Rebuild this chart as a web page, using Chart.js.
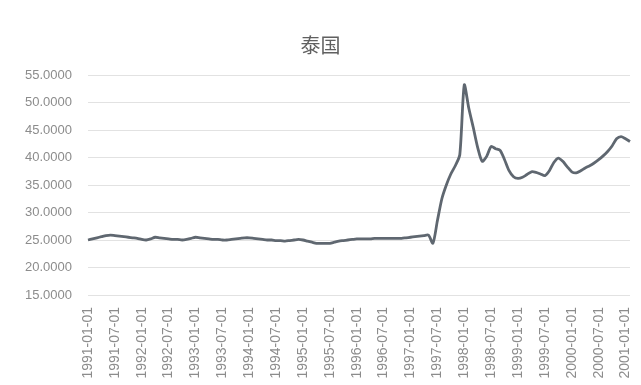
<!DOCTYPE html>
<html>
<head>
<meta charset="utf-8">
<script src="https://cdn.jsdelivr.net/npm/chart.js@4/dist/chart.umd.min.js"></script>
<style>
  html, body { margin: 0; padding: 0; background: #fff; }
  #wrap { width: 641px; height: 385px; }
</style>
</head>
<body>
<div id="wrap"><canvas id="chart"></canvas></div>
<script>
// monthly THB/USD, 1991-01 .. 2001-02
const startYear = 1991;
const rate1991to1993 = [
  25.0, 25.2, 25.4, 25.6, 25.8, 25.9, 25.8, 25.7, 25.6, 25.5, 25.4, 25.3,
  25.1, 25.0, 25.2, 25.5, 25.4, 25.3, 25.2, 25.1, 25.1, 25.0, 25.1, 25.3,
  25.5, 25.4, 25.3, 25.2, 25.1, 25.1, 25.0, 25.0, 25.1, 25.2, 25.3, 25.4
];
const rate1994to1996 = [
  25.4, 25.3, 25.2, 25.1, 25.0, 25.0, 24.9, 24.9, 24.8, 24.9, 25.0, 25.1,
  25.0, 24.8, 24.6, 24.4, 24.4, 24.4, 24.4, 24.6, 24.8, 24.9, 25.0, 25.1,
  25.2, 25.2, 25.2, 25.2, 25.3, 25.3, 25.3, 25.3, 25.3, 25.3, 25.3, 25.4
];
const rate1997to1999 = [
  25.5, 25.6, 25.7, 25.8, 25.9, 24.4, 28.5, 32.5, 35.0, 37.0, 38.5, 40.5,
  53.2, 49.0, 45.5, 41.8, 39.3, 40.2, 42.0, 41.6, 41.3, 39.6, 37.6, 36.5,
  36.2, 36.4, 36.9, 37.4, 37.3, 37.0, 36.7, 37.6, 39.1, 39.9, 39.3, 38.3
];
const rate2000to2001 = [
  37.4, 37.2, 37.6, 38.1, 38.5, 39.0, 39.6, 40.3, 41.1, 42.1, 43.4, 43.8,
  43.4, 42.9
];
const rates = [...rate1991to1993, ...rate1994to1996, ...rate1997to1999, ...rate2000to2001];

const months = rates.map((_, i) => {
  const y = startYear + Math.floor(i / 12);
  const m = String(i % 12 + 1).padStart(2, "0");
  return `${y}-${m}-01`;
});

const yTicks = [15, 20, 25, 30, 35, 40, 45, 50, 55];

const ctx = document.getElementById("chart").getContext("2d");
const chart = new Chart(ctx, {
  type: "line",
  data: {
    labels: months,
    datasets: [
      {
        label: "泰国",
        data: rates,
        borderColor: "#5f6770",
        borderWidth: 2.8,
        pointRadius: 0,
        tension: 0.25,
        fill: false,
      },
    ],
  },
  options: {
    responsive: true,
    maintainAspectRatio: false,
    animation: false,
    layout: { padding: { left: 0, right: 0, top: 3, bottom: 0 } },
    plugins: {
      legend: { display: false },
      tooltip: { enabled: false },
      title: {
        display: true,
        text: "泰国",
        color: "#606060",
        font: { family: "'Noto Sans CJK SC', sans-serif", size: 20, weight: "normal" },
        padding: { top: 30, bottom: 18 },
      },
    },
    scales: {
      x: {
        offset: false,
        grid: { display: false, drawTicks: false },
        border: { display: false },
        afterFit: (s) => {
          s.height = 90;
          s.paddingLeft = 0;
          s.paddingRight = 11; // keep the last month near the right edge
        },
        ticks: {
          autoSkip: false,
          minRotation: 90,
          maxRotation: 90,
          padding: 12,
          color: "#8c8c8c",
          font: { family: "'Liberation Sans', sans-serif", size: 14 },
          callback: function (val, i) {
            return i % 6 === 0 ? months[i] : null;
          },
        },
      },
      y: {
        min: 15,
        max: 55,
        afterFit: (s) => { s.width = 88; },
        afterBuildTicks: (s) => { s.ticks = yTicks.map((v) => ({ value: v })); },
        grid: { color: "#e2e2e2", lineWidth: 1, drawTicks: false },
        border: { display: false },
        ticks: {
          padding: 16,
          color: "#8c8c8c",
          font: { family: "'Liberation Sans', sans-serif", size: 13 },
          callback: (v) => v.toFixed(4),
        },
      },
    },
  },
});
</script>
</body>
</html>
